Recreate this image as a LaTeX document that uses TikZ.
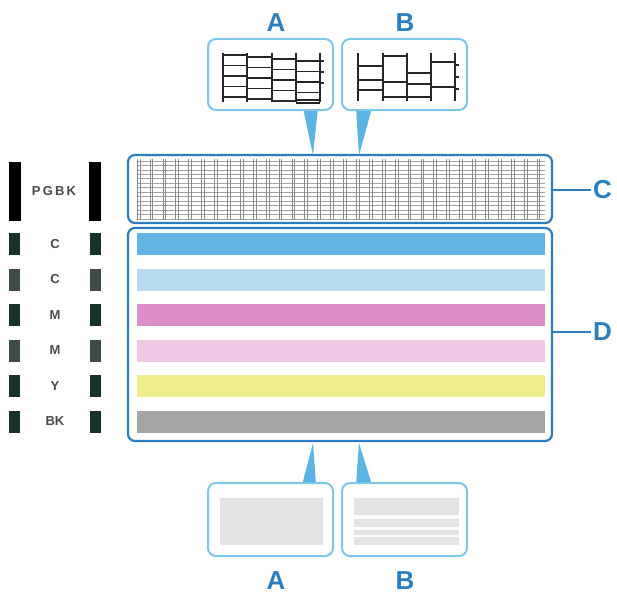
\documentclass[tikz,border=0pt]{standalone}
\usepackage{fontspec}
\setmainfont{Liberation Sans}
\definecolor{boxblue}{HTML}{2C7CC2}
\definecolor{calblue}{HTML}{7DC6EC}
\definecolor{ptrblue}{HTML}{5AB5E5}
\definecolor{letterblue}{HTML}{2A7FC2}
\definecolor{barA}{HTML}{62B4E2}
\definecolor{barB}{HTML}{B8DCEE}
\definecolor{barC}{HTML}{DC8EC4}
\definecolor{barD}{HTML}{F0C8E4}
\definecolor{barE}{HTML}{F0EE8C}
\definecolor{barF}{HTML}{A4A6A6}
\definecolor{inkdark}{HTML}{17322C}
\definecolor{inklight}{HTML}{3E4C47}
\definecolor{inkgrey}{HTML}{4A4A4A}
\definecolor{gridgrey}{HTML}{8C8C8C}
\definecolor{gridpale}{HTML}{A2A2A2}
\definecolor{patgrey}{HTML}{E4E4E4}
\begin{document}
\begin{tikzpicture}[x=1pt,y=-1pt,
  mainbox/.style={draw=boxblue, line width=2.2pt, rounded corners=7pt, inner sep=0pt, minimum width=424pt},
  callout/.style={draw=calblue, line width=2pt, rounded corners=8pt, inner sep=0pt, minimum width=125pt, fill=white},
  bigletter/.style={text=letterblue, font=\fontsize{26}{26}\selectfont\bfseries, inner sep=2pt},
  inklabel/.style={text=inkgrey, font=\fontsize{13}{13}\selectfont\bfseries, inner sep=0pt},
  lead/.style={draw=boxblue, line width=2.4pt},
  ptr/.style={fill=ptrblue},
  gridline/.style={draw=gridgrey, line width=0.6pt},
  gridlight/.style={draw=gridpale, line width=0.7pt},
  patline/.style={draw=black!85, line width=1.4pt}
]
\useasboundingbox (0,0) rectangle (617,594);
\fill[white] (0,0) rectangle (617,594);

% main boxes
\node[mainbox, minimum height=68pt] (C) at (340,189) {};
\node[mainbox, minimum height=213pt] (D) at (340,334.5) {};

% grid inside C
\foreach \i in {0,...,13} \draw[gridlight] (137,{161+\i*4.45}) -- (545,{161+\i*4.45});
\foreach \i in {0,...,31} {
  \draw[gridline] ({137+\i*12.9},159) -- ({137+\i*12.9},220);
  \draw[gridline] ({139.8+\i*12.9},159) -- ({139.8+\i*12.9},220);
}

% colour bars inside D
\foreach \c [count=\i from 0] in {barA,barB,barC,barD,barE,barF}
  \fill[\c] (137,{233+\i*35.5}) rectangle (545,{255+\i*35.5});

% left ink column
\fill[black] (9,162) rectangle (21,221);
\fill[black] (89,162) rectangle (101,221);
\node[inklabel] (pgbk) at (54,191) {P\,G\,B\,K};
\foreach \t/\k [count=\i from 0] in {C/inkdark,C/inklight,M/inkdark,M/inklight,Y/inkdark,BK/inkdark} {
  \fill[\k] (9,{233+\i*35.5}) rectangle (20,{255+\i*35.5});
  \fill[\k] (90,{233+\i*35.5}) rectangle (101,{255+\i*35.5});
  \node[inklabel] (ink\i) at (55,{244+\i*35.5}) {\t};
}

% right labels
\node[bigletter, anchor=west] (labC) at (591,190) {C};
\node[bigletter, anchor=west] (labD) at (591,332) {D};
\draw[lead] (C.east |- labC.west) -- (labC.west);
\draw[lead] (D.east |- labD.west) -- (labD.west);

% top callouts
\fill[ptr] (303,108) -- (318,108) -- (313,155) -- cycle;
\fill[ptr] (356,108) -- (372,108) -- (359,155) -- cycle;
\node[callout, minimum height=71pt] (topA) at (270.5,74.5) {};
\node[callout, minimum height=71pt] (topB) at (404.5,74.5) {};
\node[bigletter] (labTA) at (276,23) {A};
\node[bigletter] (labTB) at (405,23) {B};

% pattern A (top)
\foreach \x in {223,247,272,296,320} \draw[patline] (\x,53) -- (\x,102);
\foreach \x/\o in {223/55,247/57,272/59,296/61}
  \foreach \k in {0,...,4} \draw[patline] (\x,{\o+\k*10.5}) -- ({\x+24},{\o+\k*10.5});
\foreach \y in {61,72,83} \draw[patline] (320,\y) -- (324,\y);
\draw[patline] (296,100) -- (320,100);

% pattern B (top)
\foreach \x in {358,383,407,431,455} \draw[patline] (\x,53) -- (\x,101);
\foreach \y in {66,80,90} \draw[patline] (358,\y) -- (383,\y);
\foreach \y in {56,82,97} \draw[patline] (383,\y) -- (407,\y);
\foreach \y in {73,84,97} \draw[patline] (407,\y) -- (431,\y);
\foreach \y in {62,87} \draw[patline] (431,\y) -- (455,\y);
\foreach \y in {65,77,89} \draw[patline] (455,\y) -- (459,\y);

% bottom callouts
\fill[ptr] (302,485) -- (316,485) -- (313,443) -- cycle;
\fill[ptr] (356,485) -- (372,485) -- (359,443) -- cycle;
\node[callout, minimum height=73pt] (botA) at (270.5,519.5) {};
\node[callout, minimum height=73pt] (botB) at (404.5,519.5) {};
\fill[patgrey] (220,498) rectangle (323,545);
\fill[patgrey] (354,498) rectangle (459,545);
\fill[white!92!patgrey] (354,515) rectangle (459,519);
\fill[white!92!patgrey] (354,527.3) rectangle (459,530);
\fill[white!92!patgrey] (354,535) rectangle (459,537.3);
\node[bigletter] (labBA) at (276,581) {A};
\node[bigletter] (labBB) at (405,581) {B};
\end{tikzpicture}
\end{document}
